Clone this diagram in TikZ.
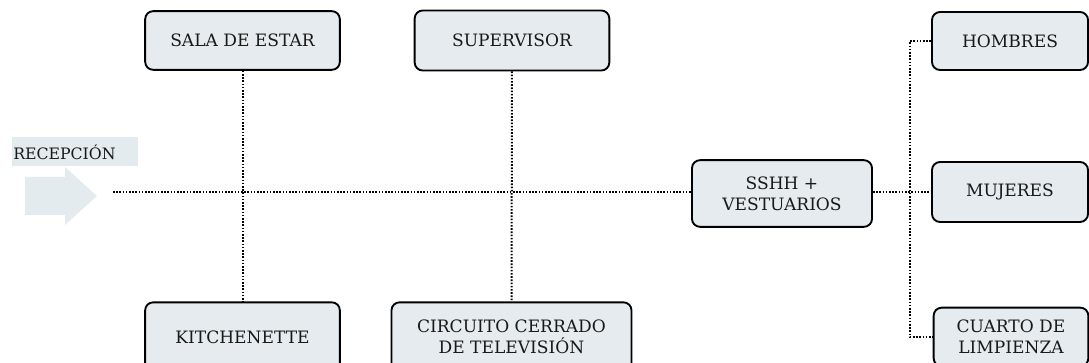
\documentclass[tikz,border=0pt]{standalone}
\usepackage{fontspec}
\setmainfont{DejaVu Serif}
\begin{document}
\begin{tikzpicture}[x=0.75pt,y=-0.75pt,
  box/.style={draw=black, line width=1.4pt, rounded corners=6pt, fill=boxfill,
    align=center, inner sep=0pt, font=\fontsize{12.8}{15.5}\selectfont, text=black!90},
  dotline/.style={line width=1.5pt, dash pattern=on 1.2pt off 1.2pt, black}]
\definecolor{boxfill}{HTML}{E5EBEE}
\definecolor{arrowfill}{HTML}{E4EBEE}
\path[use as bounding box, clip] (0,0) rectangle (1089,363);
% arrow and label
\fill[arrowfill] (25,177) -- (65,177) -- (65,167) -- (97,196) -- (65,225) -- (65,215) -- (25,215) -- cycle;
\node[fill=arrowfill, minimum width=94pt, minimum height=22pt, inner sep=0pt, anchor=west] (rec) at (12,151.5) {};
\node[anchor=west, inner sep=0pt, font=\fontsize{11.8}{15}\selectfont, text=black!90] (rect) at (13,152) {RECEPCIÓN};
% boxes
\node[box, minimum width=146pt, minimum height=44pt] (sala) at (242.5,40.5) {SALA DE ESTAR};
\node[box, minimum width=146pt, minimum height=45pt] (sup) at (512,40.5) {SUPERVISOR};
\node[box, minimum width=146pt, minimum height=52pt] (kit) at (242.5,337) {KITCHENETTE};
\node[box, minimum width=180pt, minimum height=52pt] (cir) at (511.5,337) {CIRCUITO CERRADO\\DE TELEVISIÓN};
\node[box, minimum width=135pt, minimum height=50pt] (sshh) at (782,193.5) {SSHH +\\VESTUARIOS};
\node[box, minimum width=117pt, minimum height=43.5pt] (hom) at (1010,41) {HOMBRES};
\node[box, minimum width=117pt, minimum height=45pt] (muj) at (1010,192) {MUJERES};
\node[box, minimum width=116pt, minimum height=44pt] (cua) at (1011,337) {CUARTO DE\\LIMPIENZA};
% connectors
\coordinate (start) at (113,192);
\coordinate (bus) at (910,0);
\draw[dotline] (sala) -- (kit);
\draw[dotline] (sup) -- (cir);
\draw[dotline] (start) -- (start -| sshh.west);
\draw[dotline] (sshh.east |- start) -- (start -| muj.west);
\draw[dotline] (hom.west) -- (hom.west -| bus) -- (cua.west -| bus) -- (cua.west);
\end{tikzpicture}
\end{document}
